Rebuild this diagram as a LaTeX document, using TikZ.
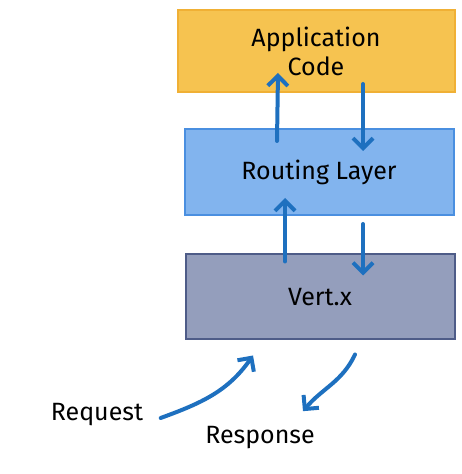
\documentclass[tikz,border=0pt]{standalone}
\usepackage{fontspec}
\setmainfont{Fira Sans}
\usetikzlibrary{arrows.meta, positioning}
\definecolor{appfill}{HTML}{F6C350}
\definecolor{appline}{HTML}{F0B035}
\definecolor{routfill}{HTML}{82B4EE}
\definecolor{routline}{HTML}{4A8FE0}
\definecolor{vertfill}{HTML}{949EBC}
\definecolor{vertline}{HTML}{4E5C88}
\definecolor{flowblue}{HTML}{1E70BF}
\tikzset {
    x=1pt, y=1pt,
    >={Straight Barb[length=10pt,width=20pt,line width=4pt]},
    layer/.style={draw, line width=2pt, align=center, font=\fontsize{25}{29}\selectfont},
    flow/.style={->, draw=flowblue, line width=4pt, line cap=round},
    lbl/.style={font=\fontsize{25}{29}\selectfont}
}
\begin{document}
\begin{tikzpicture}
    \useasboundingbox (0,0) rectangle (462,474);

    \node[layer, fill=appfill, draw=appline, minimum width=277pt, minimum height=82pt] (app) at (316,423) {Application\\Code};
    \node[layer, fill=routfill, draw=routline, minimum width=269pt, minimum height=86pt] (rout) at (319,302) {Routing Layer};
    \node[layer, fill=vertfill, draw=vertline, minimum width=269pt, minimum height=85pt] (vert) at (320,177) {Vert.x};

    \node[lbl] (req) at (97,59) {Request};
    \node[lbl] (resp) at (260,36) {Response};

    \draw[flow] ([xshift=-42pt,yshift=-13pt]rout.north) -- ([xshift=-38pt,yshift=20pt]app.south);
    \draw[flow] ([xshift=47pt,yshift=9pt]app.south) -- ([xshift=44pt,yshift=-23pt]rout.north);
    \draw[flow] ([xshift=-35pt,yshift=-8pt]vert.north) -- ([xshift=-34pt,yshift=18pt]rout.south);
    \draw[flow] ([xshift=44pt,yshift=-8pt]rout.south) -- ([xshift=43pt,yshift=-22pt]vert.north);

    \draw[flow] ([xshift=14pt,yshift=-3pt]req.east) to[out=20, in=235] ([xshift=-67pt,yshift=-15pt]vert.south);
    \draw[flow] ([xshift=35pt,yshift=-14pt]vert.south) to[out=245, in=50] ([xshift=43pt,yshift=12pt]resp.north);
\end{tikzpicture}
\end{document}
